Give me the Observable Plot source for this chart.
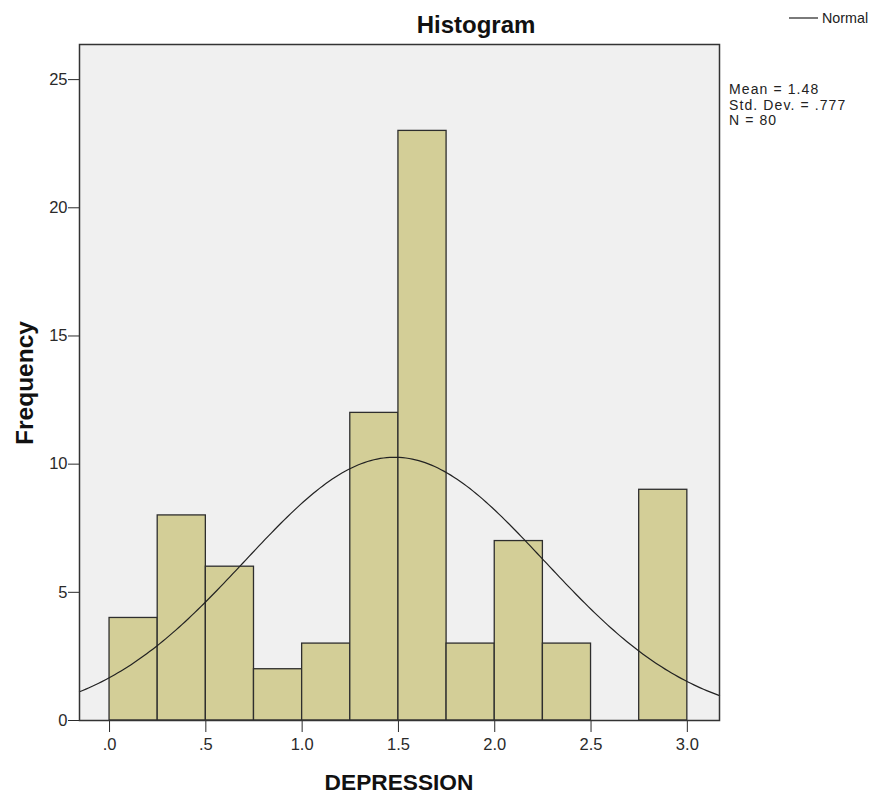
<!DOCTYPE html>
<html>
<head>
<meta charset="utf-8">
<script src="https://cdn.jsdelivr.net/npm/d3@7"></script>
<script src="https://cdn.jsdelivr.net/npm/@observablehq/plot@0.6"></script>
<style>
  html, body { margin: 0; padding: 0; background: #fff; }
  svg { display: block; }
</style>
</head>
<body>
<div id="chart"></div>
<script>
// Bin edges (lower bounds) and frequencies
const binStarts = [0, 0.25, 0.5, 0.75, 1.0, 1.25, 1.5, 1.75, 2.0, 2.25, 2.5, 2.75];
const binWidth = 0.25;
const counts = [4, 8, 6, 2, 3, 12, 23, 3, 7, 3, 0, 9];
const xTicks = [0, 0.5, 1.0, 1.5, 2.0, 2.5, 3.0];
const yTicks = [0, 5, 10, 15, 20, 25];
const statMean = 1.48;
const statSD = 0.777;
const statN = 80;
const statLines = ["Mean = 1.48", "Std. Dev. = .777", "N = 80"];

const bins = binStarts.map((s, i) => ({x1: s, x2: s + binWidth, count: counts[i]}))
  .filter(d => d.count > 0);

const xDomain = [-0.156, 3.167];
const curve = d3.range(0, 201).map(i => {
  const x = xDomain[0] + (xDomain[1] - xDomain[0]) * i / 200;
  const z = (x - statMean) / statSD;
  return {x, y: statN * binWidth / (statSD * Math.sqrt(2 * Math.PI)) * Math.exp(-0.5 * z * z)};
});

const fmtX = d => d === 0 ? ".0" : (d < 1 ? ".5" : d.toFixed(1));

const chart = Plot.plot({
  width: 878,
  height: 797,
  marginLeft: 79,
  marginRight: 159,
  marginTop: 44,
  marginBottom: 77,
  style: {fontFamily: "'Liberation Sans', Arial, sans-serif", fontSize: "16.5px", color: "#2a2a2a", background: "#fff"},
  x: {domain: xDomain, ticks: xTicks, tickFormat: fmtX, tickSize: 12, tickPadding: 6, label: null},
  y: {domain: [0, 26.37], ticks: yTicks, tickSize: 11, tickPadding: 1, label: null},
  marks: [
    Plot.frame({fill: "#f0f0f0", stroke: "none"}),
    Plot.rect(bins, {x1: "x1", x2: "x2", y1: 0, y2: "count", fill: "#d3ce97", stroke: "#2e2e2e", strokeWidth: 1.3}),
    Plot.line(curve, {x: "x", y: "y", stroke: "#222", strokeWidth: 1.2}),
    Plot.frame({stroke: "#333", strokeWidth: 1.5})
  ]
});
document.getElementById("chart").appendChild(chart);

const svg = d3.select(chart);
svg.append("text").attr("x", 476).attr("y", 33).attr("text-anchor", "middle")
  .attr("font-size", 24).attr("font-weight", "bold").attr("fill", "#111").text("Histogram");
svg.append("text").attr("x", 399).attr("y", 790).attr("text-anchor", "middle")
  .attr("font-size", 22.7).attr("font-weight", "bold").attr("fill", "#111").text("DEPRESSION");
svg.append("text").attr("transform", "translate(33,383) rotate(-90)").attr("text-anchor", "middle")
  .attr("font-size", 24.5).attr("font-weight", "bold").attr("fill", "#111").text("Frequency");
svg.append("line").attr("x1", 789).attr("x2", 818).attr("y1", 18).attr("y2", 18)
  .attr("stroke", "#222").attr("stroke-width", 1.2);
svg.append("text").attr("x", 822).attr("y", 23).attr("text-anchor", "start")
  .attr("font-size", 14.3).attr("fill", "#222").text("Normal");
statLines.forEach((t, i) => {
  svg.append("text").attr("x", 729).attr("y", 94 + i * 15.5).attr("text-anchor", "start")
    .attr("font-size", 14).attr("letter-spacing", 1.1).attr("fill", "#222").text(t);
});
</script>
</body>
</html>
